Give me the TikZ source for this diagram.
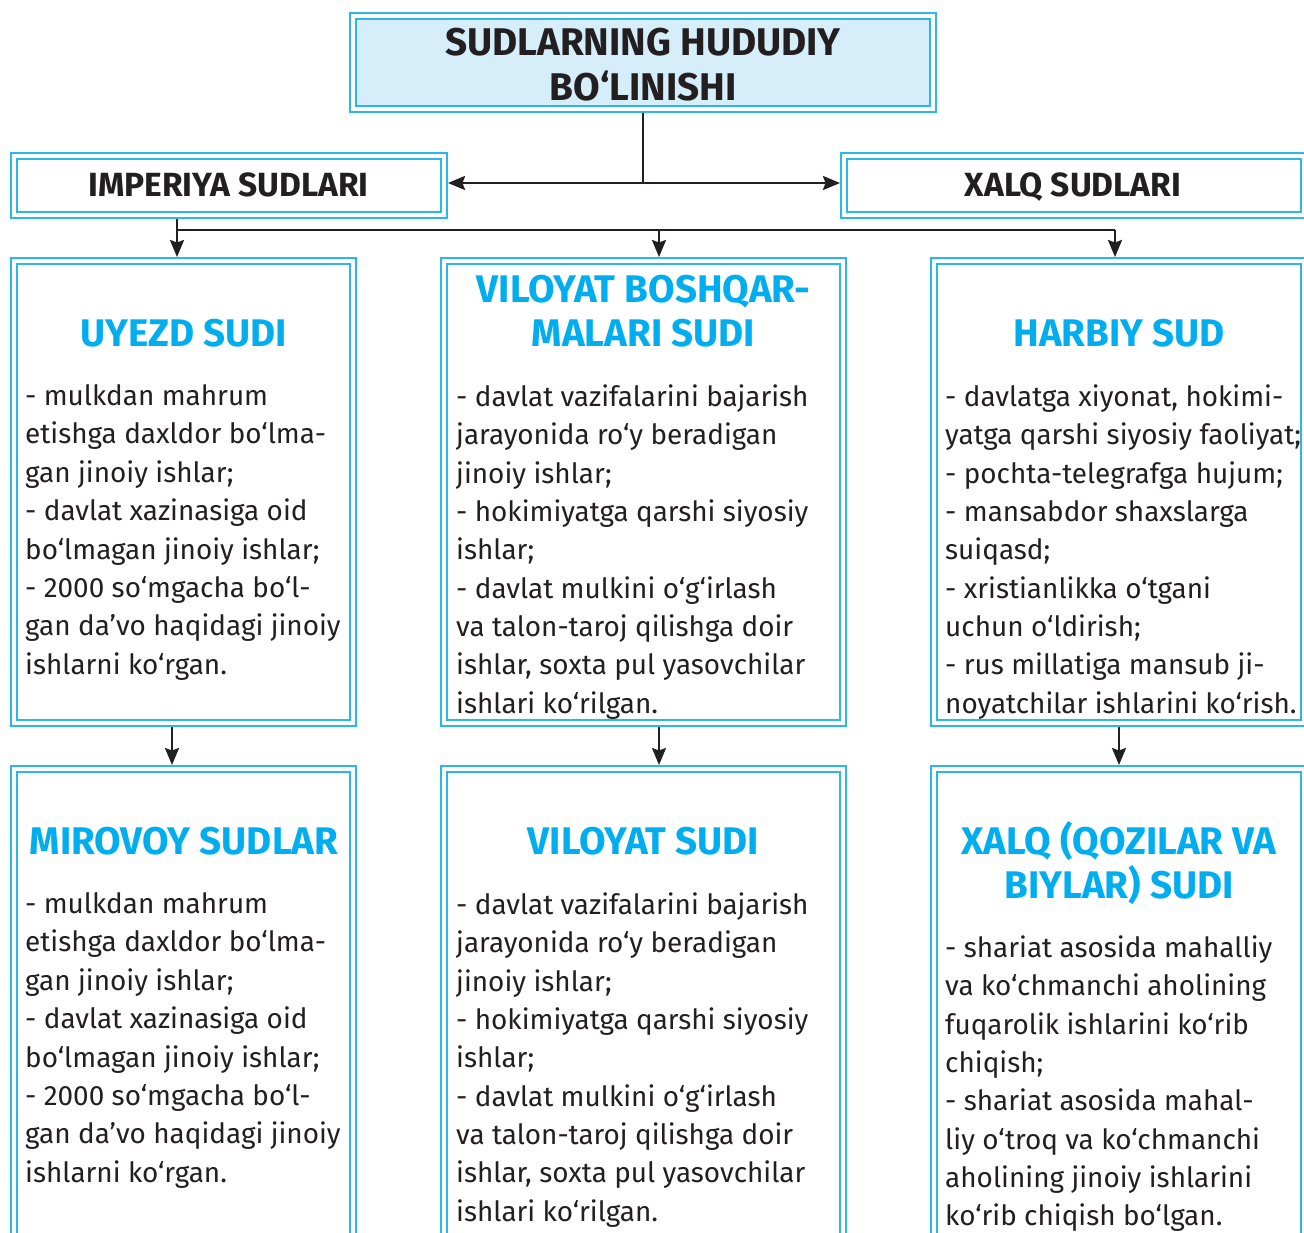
\documentclass[tikz,border=0pt]{standalone}
\usepackage{fontspec}
\setmainfont{Fira Sans}
\usetikzlibrary{arrows.meta}
\definecolor{sudline}{HTML}{2CB7EA}
\definecolor{sudtitle}{HTML}{00AEEF}
\definecolor{sudfill}{HTML}{D5EEFA}
\definecolor{sudink}{HTML}{231F20}
\tikzset{
  sudbox/.style={draw=sudline, line width=1.8pt, double=white, double distance=4.6pt, inner sep=0pt, outer sep=4.1pt},
  headtext/.style={anchor=north, inner sep=0pt, align=center, text=sudink, font=\bfseries\fontsize{38.6}{45}\selectfont},
  kindtext/.style={anchor=north, inner sep=0pt, text=sudink, font=\bfseries\fontsize{33.5}{40}\selectfont},
  courttitle/.style={anchor=north, inner sep=0pt, align=center, text=sudtitle, font=\bfseries\fontsize{38.5}{44}\selectfont},
  courtbody/.style={anchor=north west, inner sep=0pt, align=left, text=sudink, font=\fontsize{27.9}{38.35}\selectfont},
  link/.style={draw=sudink, line width=2.4pt},
  arr/.style={link, -{Stealth[length=17pt, width=14pt, inset=2.5pt]}}
}
\begin{document}
\begin{tikzpicture}[x=1pt, y=-1pt]
  \clip (0,0) rectangle (1304,1233);
  \fill[white] (0,0) rectangle (1304,1233);
  % top level
  \node[sudbox, fill=sudfill, minimum width=579.8pt, minimum height=92.8pt] (top) at (643,62.5) {};
  \node[headtext] (toptext) at (643,27.5) {SUDLARNING HUDUDIY\\BO‘LINISHI};
  \node[sudbox, minimum width=429.8pt, minimum height=58.8pt] (imp) at (229,185.5) {};
  \node[kindtext] (imptext) at (228.5,173) {IMPERIYA SUDLARI};
  \node[sudbox, minimum width=459.8pt, minimum height=58.8pt] (xalq) at (1074,185.5) {};
  \node[kindtext] (xalqtext) at (1073,173) {XALQ SUDLARI};
  % second row
  \node[sudbox, minimum width=338.8pt, minimum height=461.8pt] (uyezd) at (183.5,492) {};
  \node[courttitle] (uyezdtitle) at (184,319) {UYEZD SUDI};
  \node[courtbody] (uyezdbody) at (25,384.5) {- mulkdan mahrum\\etishga daxldor bo‘lma-\\gan jinoiy ishlar;\\- davlat xazinasiga oid\\bo‘lmagan jinoiy ishlar;\\- 2000 so‘mgacha bo‘l-\\gan da’vo haqidagi jinoiy\\ishlarni ko‘rgan.};
  \node[sudbox, minimum width=398.8pt, minimum height=461.8pt] (boshqar) at (643.5,492) {};
  \node[courttitle] (boshqartitle) at (643.5,275) {VILOYAT BOSHQAR-\\MALARI SUDI};
  \node[courtbody] (boshqarbody) at (456,384.5) {- davlat vazifalarini bajarish\\jarayonida ro‘y beradigan\\jinoiy ishlar;\\- hokimiyatga qarshi siyosiy\\ishlar;\\- davlat mulkini o‘g‘irlash\\va talon-taroj qilishga doir\\ishlar, soxta pul yasovchilar\\ishlari ko‘rilgan.};
  \node[sudbox, minimum width=369.8pt, minimum height=461.8pt] (harbiy) at (1119,492) {};
  \node[courttitle] (harbiytitle) at (1119,319) {HARBIY SUD};
  \node[courtbody] (harbiybody) at (945,384.5) {- davlatga xiyonat, hokimi-\\yatga qarshi siyosiy faoliyat;\\- pochta-telegrafga hujum;\\- mansabdor shaxslarga\\suiqasd;\\- xristianlikka o‘tgani\\uchun o‘ldirish;\\- rus millatiga mansub ji-\\noyatchilar ishlarini ko‘rish.};
  % third row
  \node[sudbox, minimum width=338.8pt, minimum height=491.8pt] (mirovoy) at (183.5,1015) {};
  \node[courttitle] (mirovoytitle) at (184,827) {MIROVOY SUDLAR};
  \node[courtbody] (mirovoybody) at (25,892.5) {- mulkdan mahrum\\etishga daxldor bo‘lma-\\gan jinoiy ishlar;\\- davlat xazinasiga oid\\bo‘lmagan jinoiy ishlar;\\- 2000 so‘mgacha bo‘l-\\gan da’vo haqidagi jinoiy\\ishlarni ko‘rgan.};
  \node[sudbox, minimum width=398.8pt, minimum height=491.8pt] (viloyat) at (643.5,1015) {};
  \node[courttitle] (viloyattitle) at (643.5,827) {VILOYAT SUDI};
  \node[courtbody] (viloyatbody) at (456,892.5) {- davlat vazifalarini bajarish\\jarayonida ro‘y beradigan\\jinoiy ishlar;\\- hokimiyatga qarshi siyosiy\\ishlar;\\- davlat mulkini o‘g‘irlash\\va talon-taroj qilishga doir\\ishlar, soxta pul yasovchilar\\ishlari ko‘rilgan.};
  \node[sudbox, minimum width=369.8pt, minimum height=491.8pt] (qozi) at (1119,1015) {};
  \node[courttitle] (qozititle) at (1119,821) {XALQ (QOZILAR VA\\BIYLAR) SUDI};
  \node[courtbody] (qozibody) at (945,935.5) {- shariat asosida mahalliy\\va ko‘chmanchi aholining\\fuqarolik ishlarini ko‘rib\\chiqish;\\- shariat asosida mahal-\\liy o‘troq va ko‘chmanchi\\aholining jinoiy ishlarini\\ko‘rib chiqish bo‘lgan.};
  % connectors
  \coordinate (junc) at (643,183);
  \draw[link] (top.south) -- (junc);
  \draw[arr] (junc) -- (junc -| imp.east);
  \draw[arr] (junc) -- (junc -| xalq.west);
  \coordinate (splitL) at (177,230);
  \coordinate (splitM) at (659,230);
  \coordinate (splitR) at (1115,230);
  \draw[link] (imp.south -| splitL) -- (splitL) -- (splitR);
  \draw[arr] (splitL) -- (splitL |- uyezd.north);
  \draw[arr] (splitM) -- (splitM |- boshqar.north);
  \draw[arr] (splitR) -- (splitR |- harbiy.north);
  \draw[arr] ([xshift=-11.5pt]uyezd.south) -- ([xshift=-11.5pt]mirovoy.north);
  \draw[arr] ([xshift=15.5pt]boshqar.south) -- ([xshift=15.5pt]viloyat.north);
  \draw[arr] (harbiy.south) -- (qozi.north);
\end{tikzpicture}
\end{document}
